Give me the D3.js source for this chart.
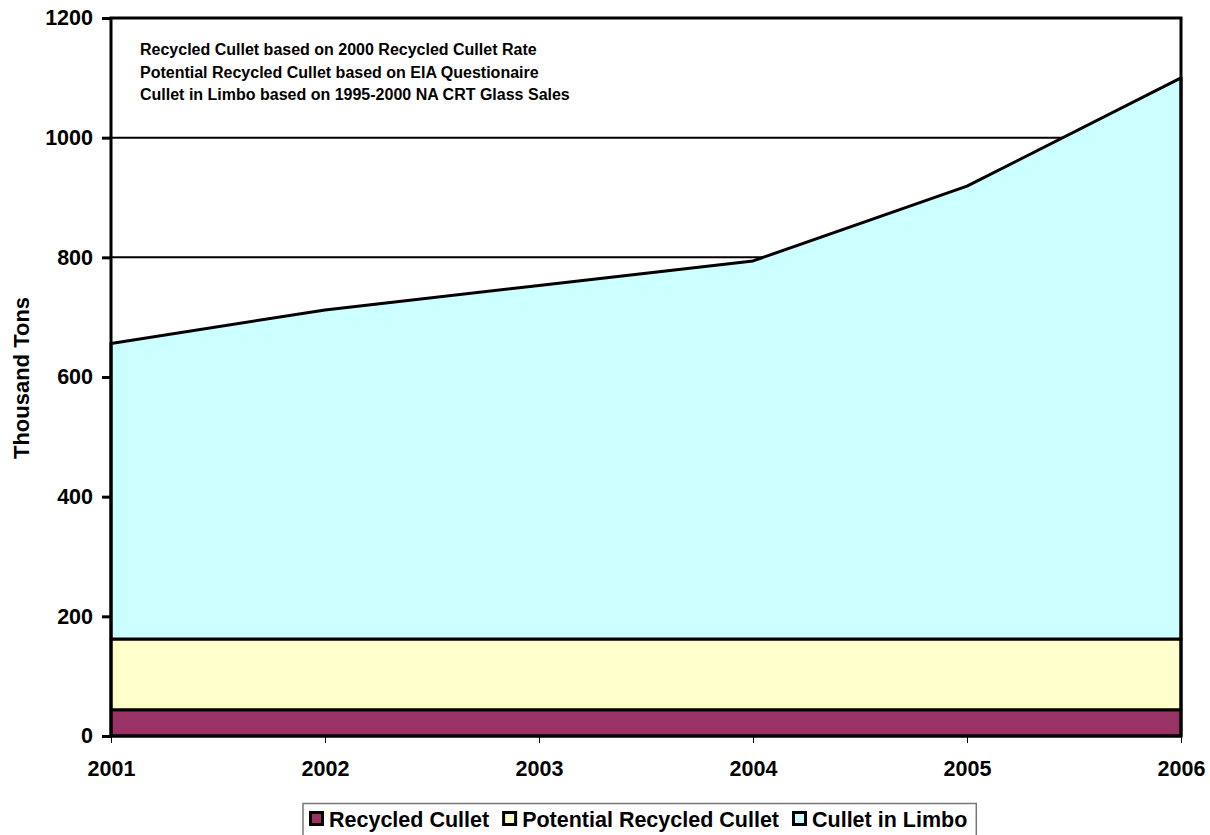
<!DOCTYPE html>
<html><head><meta charset="utf-8">
<script src="https://cdn.jsdelivr.net/npm/d3@7"></script>
<style>body{margin:0;background:#fff;}svg{display:block;font-family:"Liberation Sans",Arial,sans-serif;}</style>
</head><body>
<svg id="c" width="1210" height="835"></svg>
<script>
const years = [2001, 2002, 2003, 2004, 2005, 2006];
const recycled = [44, 44, 44, 44, 44, 44];
const potential = [118, 118, 118, 118, 118, 118];
const limbo = [494, 550, 591, 632, 757, 938];
const seriesNames = ["Recycled Cullet", "Potential Recycled Cullet", "Cullet in Limbo"];
const seriesColors = ["#993366", "#FFFFCC", "#CCFFFF"];
const yTicks = [0, 200, 400, 600, 800, 1000, 1200];
const notes = ["Recycled Cullet based on 2000 Recycled Cullet Rate",
  "Potential Recycled Cullet based on EIA Questionaire",
  "Cullet in Limbo based on 1995-2000 NA CRT Glass Sales"];

const svg = d3.select("#c");
const L = 111, R = 1181, T = 18, B = 736;
const x = d3.scaleLinear().domain([2001, 2006]).range([L, R]);
const y = d3.scaleLinear().domain([0, 1200]).range([B, T]);

const table = years.map((yr, i) => ({year: yr, r: recycled[i], p: potential[i], l: limbo[i]}));
const stack = d3.stack().keys(["r", "p", "l"])(table);

// gridlines
svg.append("g").selectAll("line").data(yTicks.slice(1, -1)).join("line")
  .attr("x1", L).attr("x2", R).attr("y1", d => y(d)).attr("y2", d => y(d))
  .attr("stroke", "#000").attr("stroke-width", 2);

const area = d3.area().x(d => x(d.data.year)).y0(d => y(d[0])).y1(d => y(d[1]));
svg.append("g").selectAll("path").data(stack).join("path")
  .attr("d", area).attr("fill", (d, i) => seriesColors[i])
  .attr("stroke", "#000").attr("stroke-width", 3).attr("stroke-linejoin", "round");

// plot border
svg.append("rect").attr("x", L).attr("y", T).attr("width", R - L).attr("height", B - T)
  .attr("fill", "none").attr("stroke", "#000").attr("stroke-width", 3);

const font = "Liberation Sans, Arial, sans-serif";
// y axis
const yAxis = svg.append("g").attr("transform", `translate(${L},0)`)
  .call(d3.axisLeft(y).tickValues(yTicks).tickFormat(d3.format("d")).tickSize(9).tickPadding(9));
yAxis.select(".domain").remove();
yAxis.selectAll(".tick line").attr("stroke", "#000").attr("stroke-width", 3);
yAxis.selectAll(".tick text").attr("font-size", 21.5).attr("font-weight", "bold")
  .attr("font-family", font).attr("fill", "#000");

// x axis
const xAxis = svg.append("g").attr("transform", `translate(0,${B})`)
  .call(d3.axisBottom(x).tickValues(years).tickFormat(d3.format("d")).tickSize(7).tickPadding(18));
xAxis.select(".domain").remove();
xAxis.selectAll(".tick line").attr("stroke", "#000").attr("stroke-width", 1);
xAxis.selectAll(".tick text").attr("font-size", 21.5).attr("font-weight", "bold")
  .attr("font-family", font).attr("fill", "#000");

// y title
svg.append("text").attr("transform", "translate(29,378) rotate(-90)")
  .attr("text-anchor", "middle").attr("font-size", 22).attr("font-weight", "bold").text("Thousand Tons");

// notes
svg.append("g").selectAll("text").data(notes).join("text")
  .attr("x", 140).attr("y", (d, i) => 55 + i * 22.7)
  .attr("font-size", 16).attr("font-weight", "bold").text(d => d);

// legend
const lg = svg.append("g");
const box = lg.append("rect").attr("x", 303).attr("y", 803.5).attr("height", 45)
  .attr("fill", "#fff").attr("stroke", "#777").attr("stroke-width", 1.5);
let lx = 309;
seriesNames.forEach((n, i) => {
  lg.append("rect").attr("x", lx + 1.5).attr("y", 812.5).attr("width", 12).attr("height", 12)
    .attr("fill", seriesColors[i]).attr("stroke", "#000").attr("stroke-width", 3);
  const t = lg.append("text").attr("x", lx + 20).attr("y", 827).attr("font-size", 21.5)
    .attr("font-weight", "bold").text(n);
  lx += 20 + t.node().getComputedTextLength() + 13;
});
box.attr("width", lx - 303 - 4);
</script>
</body></html>
